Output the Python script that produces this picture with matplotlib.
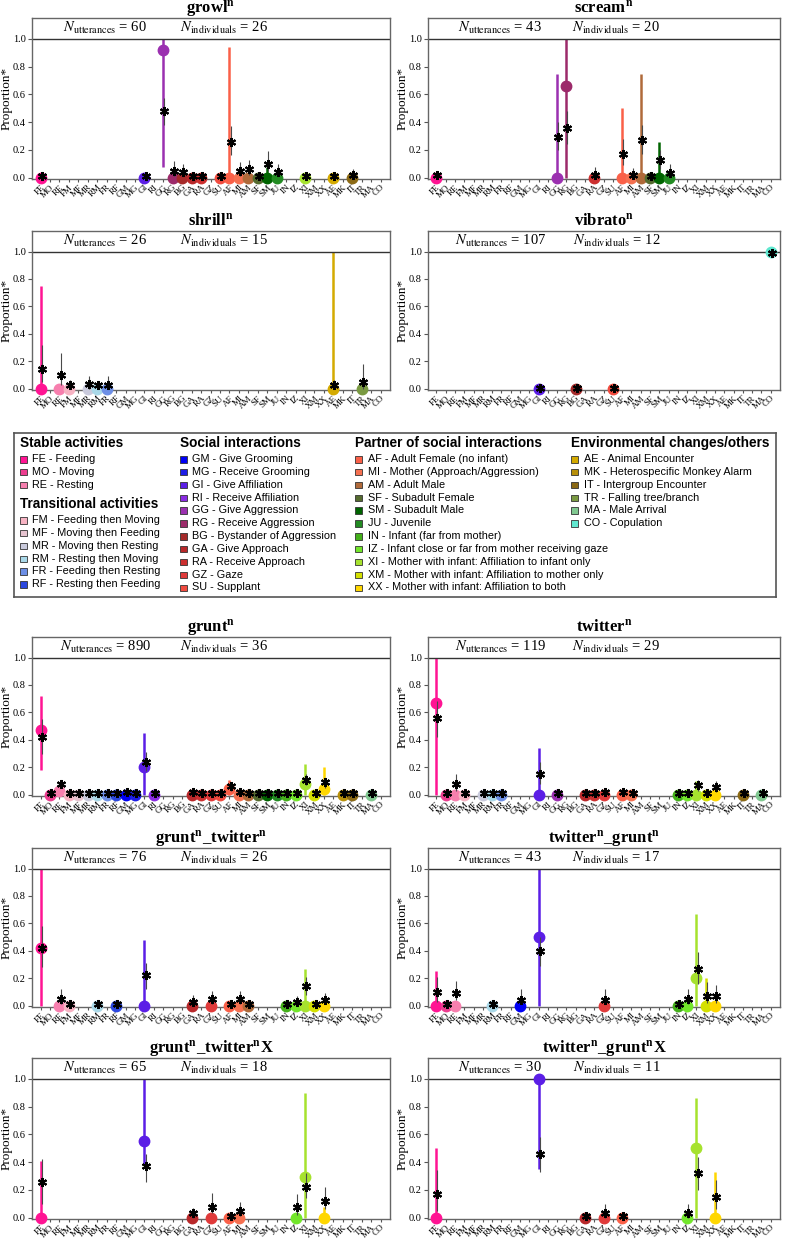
import matplotlib
matplotlib.use("Agg")
import matplotlib.pyplot as plt
from matplotlib.patches import Rectangle

plt.rcParams['font.family'] = ['Liberation Serif', 'DejaVu Serif']
plt.rcParams['mathtext.fontset'] = 'stix'

# category codes (x axis order) and colours
codes = ["FE", "MO", "RE", "FM", "MF", "MR", "RM", "FR", "RF",
         "GM", "MG", "GI", "RI", "GG", "RG", "BG", "GA", "RA", "GZ", "SU",
         "AF", "MI", "AM", "SF", "SM", "JU", "IN", "IZ", "XI", "XM", "XX",
         "AE", "MK", "IT", "TR", "MA", "CO"]
colors = ["#ff1493", "#ec3d8f", "#f77fae", "#f7b3c3", "#e6c3cf", "#c9cadc", "#a9d8e8", "#6d8fe6", "#2b47df",
          "#0000f5", "#1d1de6", "#5b1ee6", "#8a2be2", "#9b30b0", "#9c2a6a", "#a52a2a", "#b8282a", "#cc2f2f", "#e03a3a", "#f04b3f",
          "#fa6048", "#f57050", "#b06a3a", "#556b2f", "#006400", "#228b22", "#44b01a", "#72e62a", "#a6e22e", "#d4e000", "#ffd700",
          "#d4aa00", "#b8900a", "#8b6914", "#7a9a42", "#80c890", "#60e8d0"]

# legend groups
stable = [("FE", "Feeding"), ("MO", "Moving"), ("RE", "Resting")]
transitional = [("FM", "Feeding then Moving"), ("MF", "Moving then Feeding"), ("MR", "Moving then Resting"),
                ("RM", "Resting then Moving"), ("FR", "Feeding then Resting"), ("RF", "Resting then Feeding")]
social = [("GM", "Give Grooming"), ("MG", "Receive Grooming"), ("GI", "Give Affiliation"),
          ("RI", "Receive Affiliation"), ("GG", "Give Aggression"), ("RG", "Receive Aggression"),
          ("BG", "Bystander of Aggression"), ("GA", "Give Approach"), ("RA", "Receive Approach"),
          ("GZ", "Gaze"), ("SU", "Supplant")]
partner = [("AF", "Adult Female (no infant)"), ("MI", "Mother (Approach/Aggression)"), ("AM", "Adult Male"),
           ("SF", "Subadult Female"), ("SM", "Subadult Male"), ("JU", "Juvenile"), ("IN", "Infant (far from mother)"),
           ("IZ", "Infant close or far from mother receiving gaze"),
           ("XI", "Mother with infant: Affiliation to infant only"),
           ("XM", "Mother with infant: Affiliation to mother only"),
           ("XX", "Mother with infant: Affiliation to both")]
env = [("AE", "Animal Encounter"), ("MK", "Heterospecific Monkey Alarm"), ("IT", "Intergroup Encounter"),
       ("TR", "Falling tree/branch"), ("MA", "Male Arrival"), ("CO", "Copulation")]

# panel data: (code, proportion, prop_lo, prop_hi, estimate, est_lo, est_hi)
growl = [("FE", 0, 0, 0, 0.015, 0, 0.04), ("GI", 0, 0, 0, 0.01, 0, 0.03),
         ("GG", 0.92, 0.08, 1.0, 0.48, 0.38, 0.57), ("RG", 0, 0, 0, 0.05, 0.01, 0.12),
         ("BG", 0, 0, 0, 0.04, 0.01, 0.10), ("GA", 0, 0, 0, 0.015, 0, 0.03), ("RA", 0, 0, 0, 0.01, 0, 0.02),
         ("SU", 0, 0, 0, 0.01, 0, 0.02), ("AF", 0, 0, 0.94, 0.26, 0.16, 0.37),
         ("MI", 0, 0, 0, 0.05, 0.01, 0.11), ("AM", 0, 0, 0, 0.06, 0.02, 0.13), ("SF", 0, 0, 0, 0.01, 0, 0.02),
         ("SM", 0, 0, 0.08, 0.10, 0.05, 0.19), ("JU", 0, 0, 0, 0.04, 0.01, 0.10), ("XI", 0, 0, 0, 0.01, 0, 0.02),
         ("AE", 0, 0, 0, 0.01, 0, 0.02), ("IT", 0, 0, 0, 0.02, 0, 0.06)]
scream = [("FE", 0, 0, 0, 0.02, 0, 0.05), ("GG", 0, 0, 0.75, 0.29, 0.20, 0.40),
          ("RG", 0.66, 0, 1.0, 0.36, 0.24, 0.48), ("RA", 0, 0, 0, 0.02, 0, 0.08),
          ("AF", 0, 0, 0.50, 0.17, 0.09, 0.28), ("MI", 0, 0, 0, 0.02, 0, 0.07),
          ("AM", 0, 0, 0.75, 0.27, 0.17, 0.38), ("SF", 0, 0, 0, 0.01, 0, 0.02),
          ("SM", 0, 0, 0.26, 0.13, 0.06, 0.20), ("JU", 0, 0, 0, 0.03, 0, 0.10)]
shrill = [("FE", 0, 0, 0.75, 0.14, 0.05, 0.32), ("RE", 0, 0, 0, 0.10, 0.03, 0.26),
          ("FM", 0, 0, 0, 0.03, 0, 0.06), ("MR", 0, 0, 0, 0.035, 0, 0.09), ("RM", 0, 0, 0, 0.03, 0, 0.05),
          ("FR", 0, 0, 0, 0.03, 0, 0.09), ("AE", 0, 0, 1.0, 0.03, 0, 0.06), ("TR", 0, 0, 0, 0.05, 0, 0.18)]
vibrato = [("GI", 0, 0, 0, 0.005, 0, 0.01), ("BG", 0, 0, 0, 0.005, 0, 0.01),
           ("SU", 0, 0, 0, 0.005, 0, 0.01), ("CO", 1.0, 1.0, 1.0, 0.99, 0.98, 1.0)]
grunt = [("FE", 0.47, 0.18, 0.72, 0.42, 0.30, 0.55), ("MO", 0, 0, 0, 0.01, 0, 0.02),
         ("RE", 0.03, 0, 0.05, 0.08, 0.05, 0.11), ("FM", 0, 0, 0, 0.01, 0, 0.02), ("MF", 0, 0, 0, 0.01, 0, 0.02),
         ("MR", 0, 0, 0, 0.01, 0, 0.02), ("RM", 0, 0, 0, 0.01, 0, 0.02), ("FR", 0, 0, 0, 0.01, 0, 0.02),
         ("RF", 0, 0, 0, 0.01, 0, 0.02), ("GM", 0, 0, 0, 0.02, 0, 0.03), ("MG", 0, 0, 0, 0.01, 0, 0.02),
         ("GI", 0.20, 0, 0.45, 0.24, 0.17, 0.31), ("RI", 0, 0, 0, 0.01, 0, 0.02),
         ("GA", 0, 0, 0, 0.02, 0, 0.03), ("RA", 0, 0, 0, 0.01, 0, 0.02), ("GZ", 0, 0, 0, 0.01, 0, 0.02),
         ("SU", 0, 0, 0, 0.01, 0, 0.02), ("AF", 0.04, 0, 0.11, 0.06, 0.03, 0.09),
         ("MI", 0, 0, 0, 0.02, 0, 0.03), ("AM", 0, 0, 0, 0.01, 0, 0.02), ("SF", 0, 0, 0, 0.01, 0, 0.02),
         ("SM", 0, 0, 0, 0.01, 0, 0.02), ("JU", 0, 0, 0, 0.01, 0, 0.02), ("IN", 0, 0, 0, 0.01, 0, 0.02),
         ("IZ", 0, 0, 0, 0.01, 0, 0.02), ("XI", 0.08, 0, 0.22, 0.11, 0.07, 0.15),
         ("XM", 0, 0, 0, 0.01, 0, 0.02), ("XX", 0.04, 0, 0.20, 0.09, 0.05, 0.12),
         ("MK", 0, 0, 0, 0.01, 0, 0.02), ("IT", 0, 0, 0, 0.01, 0, 0.02), ("MA", 0, 0, 0, 0.01, 0, 0.02)]
twitter = [("FE", 0.67, 0, 1.0, 0.56, 0.42, 0.68), ("MO", 0, 0, 0, 0.01, 0, 0.02),
           ("RE", 0, 0, 0, 0.08, 0.03, 0.15), ("FM", 0, 0, 0, 0.01, 0, 0.02), ("MR", 0, 0, 0, 0.01, 0, 0.02),
           ("RM", 0, 0, 0, 0.01, 0, 0.02), ("FR", 0, 0, 0, 0.01, 0, 0.02),
           ("GI", 0, 0, 0.34, 0.15, 0.08, 0.24), ("GG", 0, 0, 0, 0.01, 0, 0.02),
           ("GA", 0, 0, 0, 0.01, 0, 0.02), ("RA", 0, 0, 0, 0.01, 0, 0.02), ("GZ", 0, 0, 0, 0.02, 0, 0.04),
           ("AF", 0, 0, 0, 0.02, 0, 0.04), ("MI", 0, 0, 0, 0.01, 0, 0.02), ("IN", 0, 0, 0, 0.01, 0, 0.02),
           ("IZ", 0, 0, 0, 0.015, 0, 0.03), ("XI", 0, 0, 0.10, 0.07, 0.03, 0.11),
           ("XM", 0, 0, 0, 0.01, 0, 0.02), ("XX", 0, 0, 0, 0.055, 0.02, 0.10),
           ("IT", 0, 0, 0, 0.01, 0, 0.02), ("MA", 0, 0, 0, 0.01, 0, 0.02)]
grunt_twitter = [("FE", 0.42, 0, 1.0, 0.42, 0.28, 0.58), ("RE", 0, 0, 0, 0.05, 0.01, 0.12),
                 ("FM", 0, 0, 0, 0.01, 0, 0.02), ("RM", 0, 0, 0, 0.01, 0, 0.02), ("RF", 0, 0, 0, 0.01, 0, 0.02),
                 ("GI", 0, 0, 0.48, 0.22, 0.12, 0.31), ("GA", 0, 0, 0, 0.03, 0, 0.08),
                 ("GZ", 0, 0, 0, 0.05, 0.01, 0.11), ("AF", 0, 0, 0, 0.01, 0, 0.02),
                 ("MI", 0, 0, 0, 0.05, 0.01, 0.11), ("AM", 0, 0, 0, 0.01, 0, 0.02),
                 ("IN", 0, 0, 0, 0.01, 0, 0.02), ("IZ", 0, 0, 0, 0.03, 0, 0.07),
                 ("XI", 0, 0, 0.27, 0.14, 0.08, 0.21), ("XM", 0, 0, 0, 0.01, 0, 0.02),
                 ("XX", 0, 0, 0, 0.04, 0.01, 0.09)]
twitter_grunt = [("FE", 0, 0, 0.25, 0.10, 0.03, 0.21), ("MO", 0, 0, 0, 0.01, 0, 0.02),
                 ("RE", 0, 0, 0, 0.09, 0.04, 0.18), ("RM", 0, 0, 0, 0.01, 0, 0.02),
                 ("GM", 0, 0, 0, 0.04, 0.01, 0.12), ("GI", 0.50, 0, 1.0, 0.40, 0.29, 0.50),
                 ("GZ", 0, 0, 0, 0.04, 0.01, 0.12), ("IN", 0, 0, 0, 0.01, 0, 0.02),
                 ("IZ", 0, 0, 0, 0.045, 0.01, 0.12), ("XI", 0.20, 0, 0.67, 0.27, 0.16, 0.39),
                 ("XM", 0, 0, 0.20, 0.07, 0.02, 0.17), ("XX", 0, 0, 0, 0.07, 0.02, 0.15)]
grunt_twitter_x = [("FE", 0, 0, 0.41, 0.26, 0.10, 0.42), ("GI", 0.55, 0.38, 1.0, 0.37, 0.26, 0.46),
                   ("GA", 0, 0, 0, 0.03, 0, 0.07), ("GZ", 0, 0, 0, 0.08, 0.03, 0.18),
                   ("AF", 0, 0, 0, 0.01, 0, 0.02), ("MI", 0, 0, 0, 0.05, 0.01, 0.11),
                   ("IZ", 0, 0, 0, 0.08, 0.02, 0.17), ("XI", 0.29, 0, 0.90, 0.22, 0.14, 0.32),
                   ("XX", 0, 0, 0.08, 0.12, 0.06, 0.22)]
twitter_grunt_x = [("FE", 0, 0, 0.50, 0.17, 0.05, 0.34), ("GI", 1.0, 0.35, 1.0, 0.46, 0.33, 0.58),
                   ("GA", 0, 0, 0, 0.01, 0, 0.03), ("GZ", 0, 0, 0, 0.03, 0, 0.10),
                   ("AF", 0, 0, 0, 0.01, 0, 0.03), ("IZ", 0, 0, 0, 0.03, 0, 0.10),
                   ("XI", 0.50, 0, 0.86, 0.32, 0.20, 0.44), ("XX", 0, 0, 0.33, 0.15, 0.06, 0.27)]

panels = [
    (r"growl$^{\mathbf{n}}$", growl, 60, 26),
    (r"scream$^{\mathbf{n}}$", scream, 43, 20),
    (r"shrill$^{\mathbf{n}}$", shrill, 26, 15),
    (r"vibrato$^{\mathbf{n}}$", vibrato, 107, 12),
    (r"grunt$^{\mathbf{n}}$", grunt, 890, 36),
    (r"twitter$^{\mathbf{n}}$", twitter, 119, 29),
    (r"grunt$^{\mathbf{n}}$_twitter$^{\mathbf{n}}$", grunt_twitter, 76, 26),
    (r"twitter$^{\mathbf{n}}$_grunt$^{\mathbf{n}}$", twitter_grunt, 43, 17),
    (r"grunt$^{\mathbf{n}}$_twitter$^{\mathbf{n}}$X", grunt_twitter_x, 65, 18),
    (r"twitter$^{\mathbf{n}}$_grunt$^{\mathbf{n}}$X", twitter_grunt_x, 30, 11),
]

W, H = 787, 1239
fig = plt.figure(figsize=(W / 100, H / 100), dpi=100)

def px_rect(x0, y0, x1, y1):
    return [x0 / W, 1 - y1 / H, (x1 - x0) / W, (y1 - y0) / H]

rows = [(18, 179), (231, 390), (637, 796), (848, 1007), (1058, 1219)]
cols = [(32, 390), (428, 780)]

for i, (title, data, n_utt, n_ind) in enumerate(panels):
    top, bot = rows[i // 2]
    left, right = cols[i % 2]
    ax = fig.add_axes(px_rect(left, top, right, bot))
    for code, p, plo, phi, est, elo, ehi in data:
        x = codes.index(code)
        c = colors[x]
        if phi > plo:
            ax.vlines(x, plo, phi, color=c, lw=1.8, zorder=2)
        ax.plot(x, p, "o", color=c, ms=7.5, zorder=3, clip_on=False)
        if ehi > elo:
            ax.vlines(x + 0.12, elo, ehi, color="#4a4a4a", lw=0.8, zorder=4)
        ax.plot(x + 0.12, est, marker=(6, 2, 0), color="black", ms=6.5, mew=1.5, zorder=5, clip_on=False)
    ax.axhline(1.0, color="#333333", lw=1)
    ax.set_xlim(-0.9, 37.0)
    ax.set_ylim(-0.01, 1.15)
    ax.set_yticks([0, 0.2, 0.4, 0.6, 0.8, 1.0])
    ax.set_yticklabels(["0.0", "0.2", "0.4", "0.6", "0.8", "1.0"], fontsize=7.5)
    ax.set_xticks(range(len(codes)))
    ax.set_xticklabels(codes, rotation=45, ha="right", rotation_mode="anchor", fontsize=6.6)
    ax.tick_params(axis="x", length=2, pad=1, color="#555555")
    ax.tick_params(axis="y", length=3, pad=1.5, color="#555555")
    ax.set_ylabel("Proportion*", fontsize=9.5)
    ax.yaxis.set_label_coords(-19.5 / (right - left), 0.5)
    for s in ax.spines.values():
        s.set_color("#666666")
        s.set_linewidth(1)
    # panel title placed just above the frame
    ax.text(0.5, 1 + 5.0 / (bot - top), title, transform=ax.transAxes, ha="center", va="baseline",
            fontsize=12, fontweight="bold")
    ax.text(0.205, 1.075, r"$N_{\mathrm{utterances}}$ = %d" % n_utt, transform=ax.get_yaxis_transform(),
            ha="center", va="center", fontsize=10.5)
    ax.text(0.535, 1.075, r"$N_{\mathrm{individuals}}$ = %d" % n_ind, transform=ax.get_yaxis_transform(),
            ha="center", va="center", fontsize=10.5)

# legend box
leg = fig.add_axes(px_rect(14, 433, 776, 597))
leg.set_xlim(14, 776)
leg.set_ylim(597, 433)
leg.set_xticks([])
leg.set_yticks([])
for s in leg.spines.values():
    s.set_color("#555555")
    s.set_linewidth(1.2)

lfont = ["Liberation Sans", "DejaVu Sans"]

def legend_group(x, y, header, items, step=12.85):
    leg.text(x, y, header, fontsize=9.8, fontweight="bold", family=lfont, va="center", ha="left")
    for j, (code, name) in enumerate(items):
        yy = y + 16 + j * step
        leg.add_patch(Rectangle((x, yy - 3), 6.5, 6.5, facecolor=colors[codes.index(code)],
                                edgecolor="#333333", lw=0.6))
        leg.text(x + 12.5, yy, f"{code} - {name}", fontsize=7.8, family=lfont, va="center", ha="left")

legend_group(20, 443, "Stable activities", stable)
legend_group(20, 504, "Transitional activities", transitional)
legend_group(180, 443, "Social interactions", social)
legend_group(355, 443, "Partner of social interactions", partner)
legend_group(571, 443, "Environmental changes/others", env)

fig.savefig("out.png", dpi=100)
